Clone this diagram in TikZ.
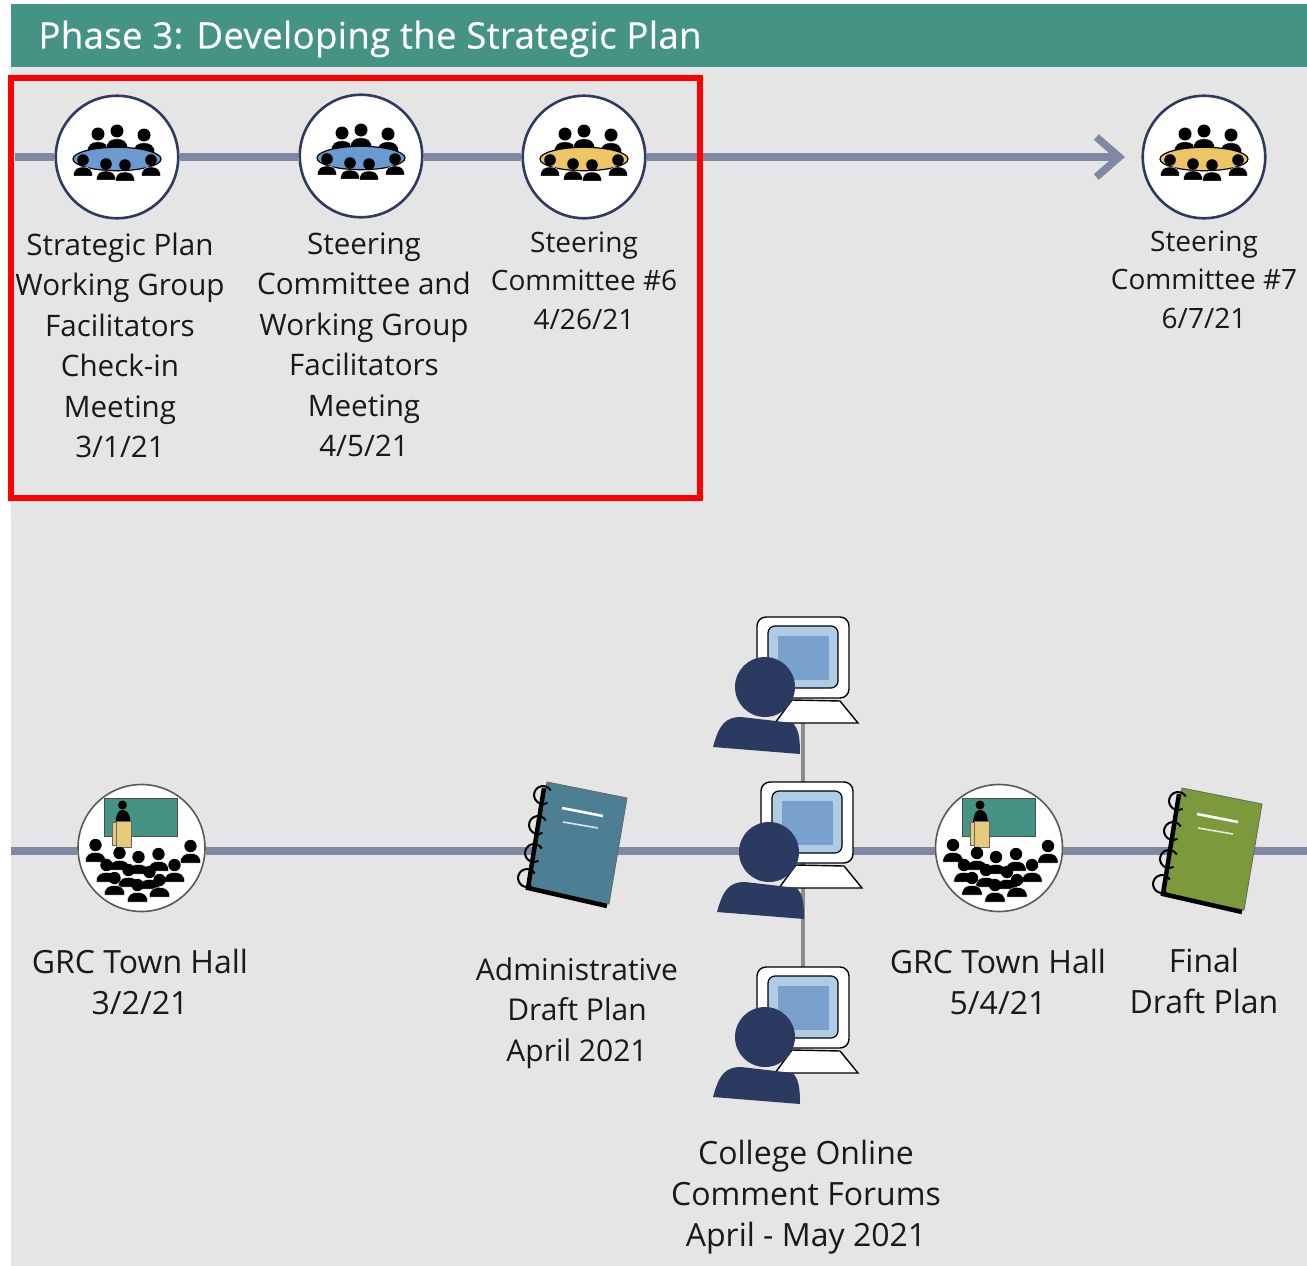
\documentclass[tikz,border=0pt]{standalone}
\usepackage{fontspec}
\setmainfont{Open Sans}
\usetikzlibrary{arrows.meta}
\definecolor{panelgrey}{HTML}{E6E5E6}
\definecolor{bannerteal}{HTML}{459384}
\definecolor{timelineblue}{HTML}{8088A4}
\definecolor{ringnavy}{HTML}{2E3A5E}
\definecolor{personnavy}{HTML}{2A3A61}
\definecolor{tableblue}{HTML}{6A9BD0}
\definecolor{tableyellow}{HTML}{EDC565}
\definecolor{podiumyellow}{HTML}{E6CC7A}
\definecolor{screenpale}{HTML}{B0CCE4}
\definecolor{screenblue}{HTML}{7AA0CC}
\definecolor{bookblue}{HTML}{4C7F93}
\definecolor{bookgreen}{HTML}{7C9A3C}
\tikzset{
	timeline/.style={line width=8.5pt, color=timelineblue},
	forumline/.style={line width=4.5pt, color=black!45},
	meetingring/.style={circle, draw=ringnavy, line width=2.6pt, fill=white, minimum size=122.5pt, inner sep=0pt},
	hallring/.style={circle, draw=black!65, line width=1.6pt, fill=white, minimum size=127pt, inner sep=0pt},
	label/.style={align=center, text=black!90, font=\fontsize{29.6}{40.5}\selectfont},
	shortlabel/.style={align=center, text=black!90, font=\fontsize{28}{38.5}\selectfont},
	draftlabel/.style={align=center, text=black!90, font=\fontsize{30}{40.5}\selectfont},
	biglabel/.style={align=center, text=black!90, font=\fontsize{32}{41}\selectfont},
}
\def\person(#1,#2)[#3]{
	\begin{scope}[shift={(#1,#2)},scale=#3]
		\filldraw[black, draw=white, line width=0.4pt] (-1.65,2.75) .. controls (-1.65,1.6) and (-1.0,1.2) .. (0,1.2) .. controls (1.0,1.2) and (1.65,1.6) .. (1.65,2.75) -- cycle;
		\fill[black] (0,0) circle (1);
	\end{scope}
}
\def\meetingicon(#1,#2)[#3]{
	\begin{scope}[shift={(#1,#2)}]
		\person(-19,-23)[6.5]
		\person(0,-26)[6.5]
		\person(27,-22)[6.5]
		\draw[fill=#3, line width=1.2pt] (0,2) ellipse (44 and 11.7);
		\person(-34,3)[5.8]
		\person(-11,7)[5.8]
		\person(8,8)[5.8]
		\person(34,3)[5.8]
	\end{scope}
}
\def\hallicon(#1,#2){
	\begin{scope}[shift={(#1,#2)}]
		\draw[fill=bannerteal, draw=black!70, line width=1pt] (-37,-50) rectangle (36,-12);
		\fill[black] (-19,-43) circle (4.5);
		\fill[black] (-26,-22) .. controls (-26,-36) and (-22,-38) .. (-19,-38) .. controls (-15,-38) and (-11,-36) .. (-11,-22) -- cycle;
		\draw[fill=podiumyellow, draw=black!60, line width=0.6pt] (-29,-26) rectangle (-24,-3);
		\draw[fill=podiumyellow, draw=black!60, line width=0.6pt] (-25,-27) rectangle (-10,-1);
		\person(-46,-3)[6.2]
		\person(49,-2)[6.2]
		\person(-22,5)[6.2]
		\person(-3,9)[6.2]
		\person(17,6)[6.2]
		\person(-35,17)[6.2]
		\person(33,17)[6.2]
		\person(-13,22)[6.2]
		\person(8,24)[6.2]
		\person(-27,30)[6.2]
		\person(18,32)[6.2]
		\person(-4,37)[6.2]
	\end{scope}
}
\def\forumicon(#1,#2){
	\begin{scope}[shift={(#1,#2)}]
		\draw[fill=white, line width=1.4pt] (27,83) -- (75,84) -- (93,106) -- (10,106) -- cycle;
		\draw[fill=white, line width=1.4pt, rounded corners=9pt] (-8,0) rectangle (84,81);
		\draw[fill=screenpale, line width=1.2pt, rounded corners=7pt] (3,9) rectangle (73,71);
		\fill[screenblue] (13,19) rectangle (64,63);
		\fill[personnavy] (-52,130) .. controls (-46,108) and (-40,100) .. (-24,100) -- (28,106) .. controls (33,112) and (35,118) .. (35,137) -- cycle;
		\fill[personnavy] (0,70) circle (30);
	\end{scope}
}
\def\notebookicon(#1,#2)[#3]{
	\begin{scope}[shift={(#1,#2)}]
		\fill[#3, draw=black!60, line width=0.8pt] (0,0) -- (80,16) -- (62,122) -- (-19,106) -- cycle;
		\draw[line width=4.5pt] (-3,6) -- (-19,106) -- (60,124);
		\draw[white, line width=2.6pt] (15,26) -- (56,34);
		\draw[white!80!#3, line width=1.6pt] (16,40) -- (51,46);
		\draw[line width=2pt] (3.8,8.5) arc[start angle=-30, end angle=-300, radius=9];
		\draw[line width=2pt] (-1.2,38.5) arc[start angle=-30, end angle=-300, radius=9];
		\draw[line width=2pt] (-5.2,66.5) arc[start angle=-30, end angle=-300, radius=9];
		\draw[line width=2pt] (-12.2,91.5) arc[start angle=-30, end angle=-300, radius=9];
	\end{scope}
}

\begin{document}
\begin{tikzpicture}[x=1pt,y=-1pt]
	\useasboundingbox (0,0) rectangle (1307,1266);
	%%%%% PANEL %%%%%
	\fill[white] (0,0) rectangle (1307,1266);
	\fill[panelgrey] (11,67) rectangle (1307,1266);
	\fill[bannerteal] (11,4) rectangle (1307,67);
	\node[anchor=west, text=white, font=\fontsize{36.5}{40}\selectfont\addfontfeature{LetterSpace=1,FakeBold=0.5}] (phasetitle) at (35,39) {Phase 3: Developing the Strategic Plan};

	%%%%% TOP ROW %%%%%
	\coordinate (topstart) at (15,157);
	\coordinate (toptip) at (1125,157);
	\node[meetingring] (planmeeting) at (117,157) {};
	\node[meetingring] (jointmeeting) at (361,156) {};
	\node[meetingring] (sixmeeting) at (584,157) {};
	\node[meetingring] (sevenmeeting) at (1204,157) {};
	\draw[timeline] (topstart) -- (topstart -| planmeeting.west);
	\draw[timeline] (topstart -| planmeeting.east) -- (topstart -| jointmeeting.west);
	\draw[timeline] (topstart -| jointmeeting.east) -- (topstart -| sixmeeting.west);
	\draw[timeline, -{Straight Barb[length=23pt,width=40pt,line width=7.5pt]}] (topstart -| sixmeeting.east) -- (toptip);
	\meetingicon(117,157)[tableblue]
	\meetingicon(361,156)[tableblue]
	\meetingicon(584,157)[tableyellow]
	\meetingicon(1204,157)[tableyellow]
	\node[label, anchor=north] (plantext) at (120,229) {Strategic Plan\\Working Group\\Facilitators\\Check-in\\Meeting\\3/1/21};
	\node[label, anchor=north] (jointtext) at (364,229) {Steering\\Committee and\\Working Group\\Facilitators\\Meeting\\4/5/21};
	\node[shortlabel, anchor=north] (sixtext) at (584,228) {Steering\\Committee \#6\\4/26/21};
	\node[shortlabel, anchor=north] (seventext) at (1204,227) {Steering\\Committee \#7\\6/7/21};

	%%%%% BOTTOM ROW %%%%%
	\coordinate (bottomstart) at (11,851);
	\coordinate (bottomend) at (1307,851);
	\coordinate (draftbook) at (575,851);
	\coordinate (finalbook) at (1210,851);
	\coordinate (forumone) at (803,700);
	\coordinate (forumtwo) at (803,851);
	\coordinate (forumthree) at (803,1000);
	\node[hallring] (hallone) at (141.5,848) {};
	\node[hallring] (halltwo) at (999,848) {};
	\draw[timeline] (bottomstart) -- (bottomstart -| hallone.west);
	\draw[timeline] (bottomstart -| hallone.east) -- (draftbook);
	\draw[timeline] (draftbook) -- (forumtwo);
	\draw[timeline] (forumtwo) -- (bottomstart -| halltwo.west);
	\draw[timeline] (bottomstart -| halltwo.east) -- (finalbook);
	\draw[timeline] (finalbook) -- (bottomend);
	\draw[forumline] (forumone) -- (forumtwo);
	\draw[forumline] (forumtwo) -- (forumthree);
	\hallicon(141.5,848)
	\hallicon(999,848)
	\notebookicon(547,782)[bookblue]
	\notebookicon(1182,788)[bookgreen]
	\forumicon(765,617)
	\forumicon(769,782)
	\forumicon(765,967)
	\node[biglabel, anchor=north] (hallonetext) at (140,946) {GRC Town Hall\\3/2/21};
	\node[draftlabel, anchor=north] (draftbooktext) at (577,954) {Administrative\\Draft Plan\\April 2021};
	\node[biglabel, anchor=north] (halltwotext) at (998,946) {GRC Town Hall\\5/4/21};
	\node[biglabel, anchor=north] (finalbooktext) at (1204,945) {Final\\Draft Plan};
	\node[biglabel, anchor=north] (forumtext) at (806,1137) {College Online\\Comment Forums\\April - May 2021};

	%%%%% HIGHLIGHT %%%%%
	\draw[red, line width=5.5pt] (11,78) rectangle (700,498);
\end{tikzpicture}
\end{document}
